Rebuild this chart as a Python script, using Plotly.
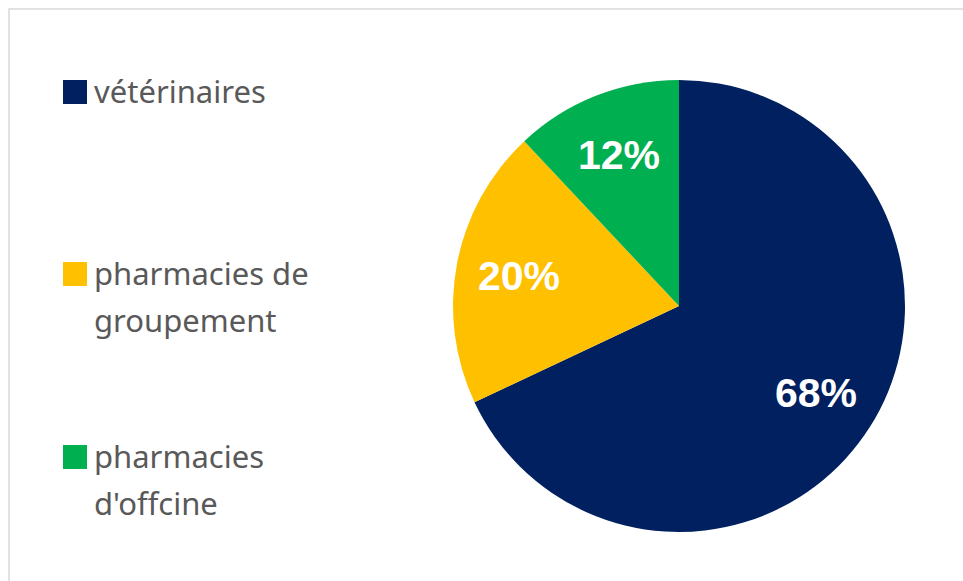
import math
import plotly.graph_objects as go

labels = ["vétérinaires", "pharmacies de<br>groupement", "pharmacies<br>d'offcine"]
values = [68, 20, 12]
colors = ["#002060", "#FFC000", "#00B050"]

W, H = 963, 581            # figure fills the window (body margin removed below)
cx, cy, r = 679, 306, 226  # pixel geometry of the pie


def px(x):
    return x / W


def py(y):
    return (H - y) / H


fig = go.Figure()
fig.add_trace(go.Pie(
    labels=labels, values=values, sort=False, direction="clockwise", rotation=0,
    marker=dict(colors=colors, line=dict(width=0)),
    textinfo="none",
    domain=dict(x=[px(cx - r), px(cx + r)], y=[py(cy + r), py(cy - r)]),
    showlegend=False, hoverinfo="label+percent",
))

# percent labels placed at slice mid-angles
total = sum(values)
cum = 0
for v in values:
    mid = (cum + v / 2) / total * 2 * math.pi
    cum += v
    lx = cx + 0.72 * r * math.sin(mid)
    ly = cy - 0.72 * r * math.cos(mid)
    fig.add_annotation(text="<b>%d%%</b>" % round(v / total * 100), xref="paper", yref="paper",
                       x=px(lx), y=py(ly), xanchor="center", yanchor="middle", showarrow=False,
                       font=dict(size=41, color="white", family="Liberation Sans"))

# custom legend
leg_y = [92, 274, 457]
for lab, col, ly in zip(labels, colors, leg_y):
    fig.add_shape(type="rect", xref="paper", yref="paper",
                  x0=px(63), x1=px(87), y0=py(ly + 12), y1=py(ly - 12),
                  fillcolor=col, line=dict(width=0))
    for i, line in enumerate(lab.split("<br>")):
        fig.add_annotation(text=line, xref="paper", yref="paper", x=px(92), y=py(ly - 1 + 47 * i),
                           xanchor="left", yanchor="middle", showarrow=False, align="left",
                           font=dict(size=31, color="#595959", family="Noto Sans"))

# frame (right and bottom edges fall outside the visible area)
fig.add_shape(type="rect", xref="paper", yref="paper", x0=px(9), x1=1.2, y0=-0.2, y1=py(9),
              line=dict(color="#D9D9D9", width=1.5), fillcolor="rgba(0,0,0,0)")

fig.update_layout(width=W, height=H, margin=dict(l=0, r=0, t=0, b=0),
                  paper_bgcolor="white", plot_bgcolor="white")
fig.write_html("out.html", config={"displayModeBar": False},
               post_script="document.body.style.margin='0';document.body.style.overflow='hidden';")
